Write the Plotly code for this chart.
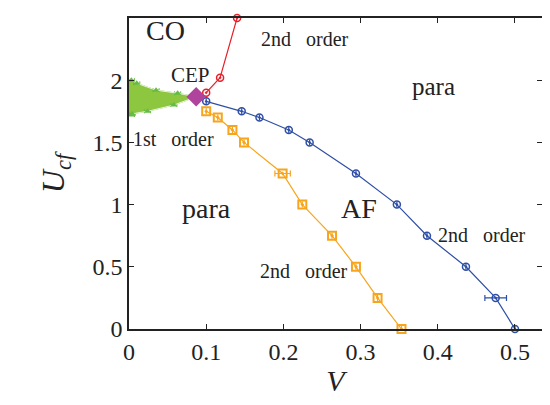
import plotly.graph_objects as go

# Data
red_V = [0.1, 0.118, 0.14]
red_U = [1.9, 2.02, 2.5]

blue_V = [0.1, 0.146, 0.169, 0.207, 0.234, 0.294, 0.347, 0.386, 0.4365, 0.475, 0.5]
blue_U = [1.83, 1.75, 1.70, 1.60, 1.50, 1.25, 1.0, 0.75, 0.5, 0.25, 0.0]
blue_err = [0, 0, 0, 0, 0, 0, 0, 0, 0, 0.014, 0]

orange_V = [0.1, 0.115, 0.134, 0.149, 0.199, 0.2245, 0.263, 0.294, 0.322, 0.353]
orange_U = [1.75, 1.70, 1.60, 1.50, 1.25, 1.0, 0.75, 0.5, 0.25, 0.0]
orange_err = [0, 0, 0, 0, 0.01, 0, 0, 0, 0, 0]

green_up_V = [0.003, 0.01, 0.035, 0.063, 0.087]
green_up_U = [2.0, 1.975, 1.92, 1.895, 1.867]
green_lo_V = [0.087, 0.058, 0.024, 0.004, 0.003]
green_lo_U = [1.867, 1.80, 1.75, 1.73, 1.72]

cep_V = [0.087]
cep_U = [1.867]

x_ticks = [0, 0.1, 0.2, 0.3, 0.4, 0.5]
y_ticks = [0, 0.5, 1, 1.5, 2, 2.5]
x_range = [0, 0.535]
y_range = [0, 2.5]

FONT = "Liberation Serif"
RED = "#e8202a"
BLUE = "#2f4fa6"
ORANGE = "#f7a51c"
GREEN_FILL = "#8dc63f"
GREEN = "#66bb44"
MAGENTA = "#b0449c"
INK = "#222222"

fig = go.Figure()

# green coexistence region (filled)
fig.add_trace(go.Scatter(
    x=[0.0] + green_up_V + green_lo_V + [0.0],
    y=[2.0] + green_up_U + green_lo_U + [1.72],
    mode="lines", fill="toself", fillcolor=GREEN_FILL,
    line=dict(color=GREEN_FILL, width=1), hoverinfo="skip", showlegend=False))
for gv, gu in ((green_up_V, green_up_U), (green_lo_V, green_lo_U)):
    fig.add_trace(go.Scatter(
        x=gv, y=gu, mode="lines+markers",
        line=dict(color="#e8f4dc", width=1),
        marker=dict(symbol="triangle-up", size=6, color=GREEN),
        error_x=dict(type="constant", value=0.004, color=GREEN, thickness=1, width=2),
        showlegend=False))

fig.add_trace(go.Scatter(
    x=red_V, y=red_U, mode="lines+markers",
    line=dict(color=RED, width=1.2),
    marker=dict(symbol="circle-open-dot", size=7, color=RED, line=dict(width=1.5)),
    cliponaxis=False, showlegend=False))

fig.add_trace(go.Scatter(
    x=blue_V, y=blue_U, mode="lines+markers",
    line=dict(color=BLUE, width=1.2),
    marker=dict(symbol="circle-open-dot", size=7, color=BLUE, line=dict(width=1.5)),
    error_x=dict(type="data", array=blue_err, color=BLUE, thickness=1.2, width=3),
    cliponaxis=False, showlegend=False))

fig.add_trace(go.Scatter(
    x=orange_V, y=orange_U, mode="lines+markers",
    line=dict(color=ORANGE, width=1.2),
    marker=dict(symbol="square-open-dot", size=8, color=ORANGE, line=dict(width=2)),
    error_x=dict(type="data", array=orange_err, color=ORANGE, thickness=1.2, width=3),
    cliponaxis=False, showlegend=False))

fig.add_trace(go.Scatter(
    x=cep_V, y=cep_U, mode="markers",
    marker=dict(symbol="diamond", size=15, color=MAGENTA),
    showlegend=False))

SP = "&nbsp;&nbsp;&nbsp;"
labels = [
    ("CO", 0.047, 2.4, 28),
    ("2nd" + SP + "order", 0.228, 2.33, 20),
    ("CEP", 0.08, 2.04, 21),
    ("para", 0.394, 1.95, 25),
    ("1st" + SP + "order", 0.057, 1.53, 20),
    ("para", 0.1, 0.97, 28),
    ("AF", 0.298, 0.97, 28),
    ("2nd" + SP + "order", 0.227, 0.47, 20),
    ("2nd" + SP + "order", 0.457, 0.755, 20),
]
for t, x, y, s in labels:
    fig.add_annotation(x=x, y=y, text=t, showarrow=False,
                       font=dict(family=FONT, size=s, color=INK))

axis_common = dict(
    showgrid=False, zeroline=False, showline=True, linecolor=INK, linewidth=1.5,
    ticks="inside", ticklen=5, tickcolor=INK, automargin=False, mirror="ticks",
    tickfont=dict(family=FONT, size=24, color=INK),
)
fig.update_layout(
    xaxis=dict(range=x_range, tickvals=x_ticks,
               title=dict(text="<i>V</i>", font=dict(family=FONT, size=30, color=INK), standoff=12),
               **axis_common),
    yaxis=dict(range=y_range, tickvals=y_ticks, ticksuffix="\u2002",
               title=dict(text="<i>U<sub>cf</sub></i>", font=dict(family=FONT, size=32, color=INK), standoff=18),
               **axis_common),
)

# figure sized so that, with the page body's 8px margin, it fits the window exactly
fig.update_layout(width=534, height=389, plot_bgcolor="white", paper_bgcolor="white",
                  margin=dict(l=121, r=0, t=10, b=68))

fig.write_html("out.html", config={"displayModeBar": False})
